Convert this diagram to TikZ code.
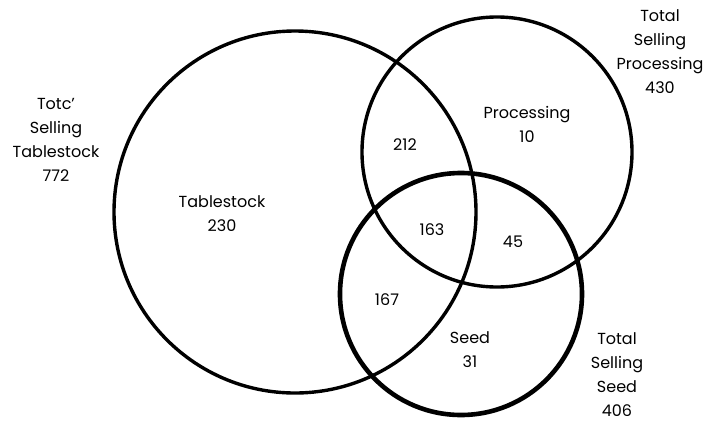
\documentclass[tikz,border=0pt]{standalone}
\usepackage{fontspec}
\setmainfont{Poppins}
\begin{document}
\begin{tikzpicture}[x=1pt,y=-1pt,line cap=round,line join=round,
  lbl/.style={font=\fontsize{16}{24}\selectfont,align=center,inner sep=0pt}]
  \useasboundingbox (0,0) rectangle (715,421);
  % the three sets
  \draw[line width=3.4pt] (295,212) circle (181);
  \draw[line width=3.4pt] (497,152) circle (135);
  \draw[line width=4.6pt] (461,294) circle (121);
  % totals outside
  \node[lbl] (totTab) at (56,140) {Totc'\\Selling\\Tablestock\\772};
  \node[lbl] (totPro) at (660,52) {Total\\Selling\\Processing\\430};
  \node[lbl] (totSeed) at (617,375) {Total\\Selling\\Seed\\406};
  % regions
  \node[lbl] (tab) at (222,214) {Tablestock\\230};
  \node[lbl] (pro) at (527,124) {Processing\\10};
  \node[lbl] (seed) at (470,350) {Seed\\31};
  \node[lbl] (tp) at (405,145) {212};
  \node[lbl] (tps) at (432,230) {163};
  \node[lbl] (ps) at (513,242) {45};
  \node[lbl] (ts) at (387,300) {167};
\end{tikzpicture}
\end{document}
